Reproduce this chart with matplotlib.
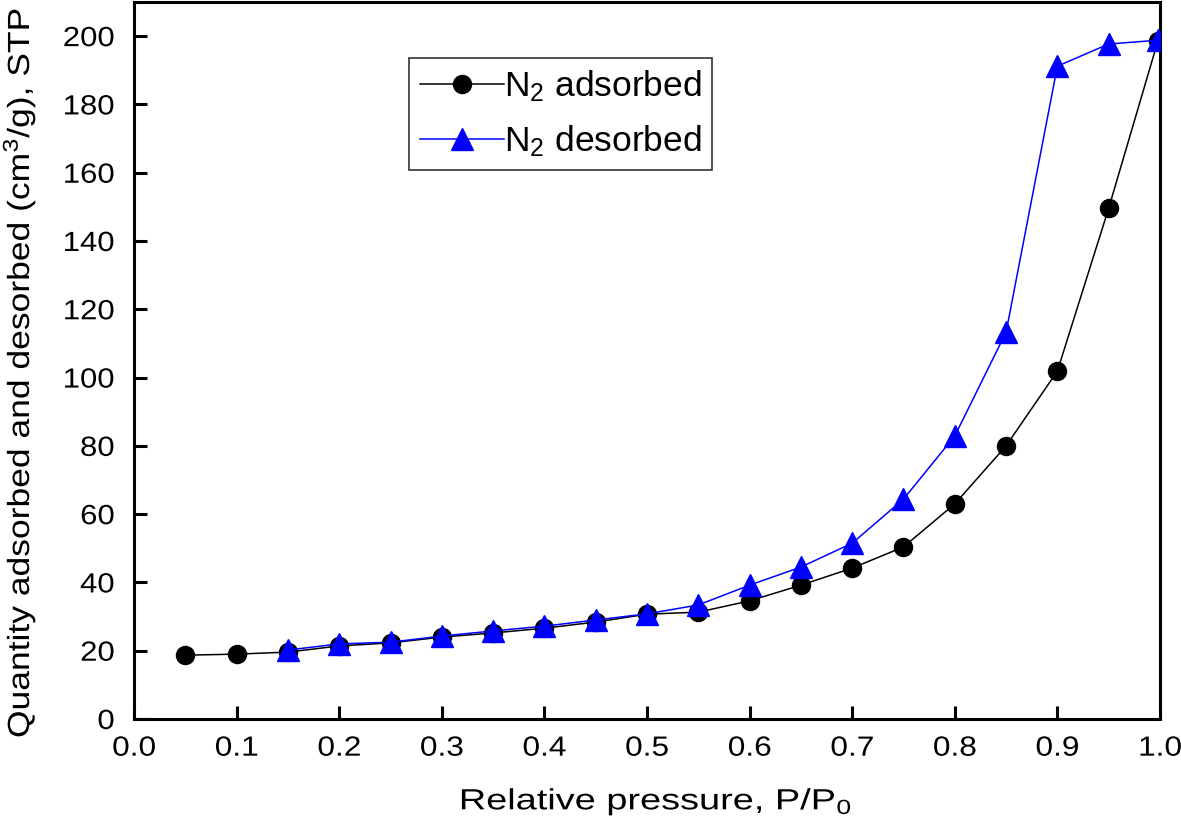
import matplotlib
matplotlib.use("Agg")
import matplotlib.pyplot as plt
from matplotlib.patheffects import AbstractPathEffect
from matplotlib.transforms import Affine2D

plt.rcParams['font.family'] = ['Liberation Sans', 'DejaVu Sans']
plt.rcParams['mathtext.fontset'] = 'custom'
plt.rcParams['mathtext.rm'] = 'Liberation Sans'
plt.rcParams['mathtext.it'] = 'Liberation Sans'

x_ads = [0.05, 0.10, 0.15, 0.20, 0.25, 0.30, 0.35, 0.40, 0.45, 0.50,
         0.55, 0.60, 0.65, 0.70, 0.75, 0.80, 0.85, 0.90, 0.95, 0.998]
y_ads = [18.7, 19.0, 19.6, 21.4, 22.3, 24.0, 25.2, 26.6, 28.4, 30.7,
         31.3, 34.6, 39.2, 44.2, 50.4, 63.0, 80.0, 101.9, 149.6, 198.6]

x_des = [0.15, 0.20, 0.25, 0.30, 0.35, 0.40, 0.45, 0.50, 0.55, 0.60,
         0.65, 0.70, 0.75, 0.80, 0.85, 0.90, 0.95, 0.998]
y_des = [20.2, 22.0, 22.5, 24.3, 25.8, 27.2, 29.0, 30.8, 33.4, 39.2,
         44.5, 51.5, 64.4, 82.9, 113.3, 191.2, 197.7, 198.8]

x_ticks = [0.0, 0.1, 0.2, 0.3, 0.4, 0.5, 0.6, 0.7, 0.8, 0.9, 1.0]
y_ticks = [0, 20, 40, 60, 80, 100, 120, 140, 160, 180, 200]


class Stretch(AbstractPathEffect):
    """Widen glyphs along the text direction, keeping an anchor fixed."""
    def __init__(self, sx, anchor='center'):
        super().__init__((0, 0))
        self._sx = sx
        self._anchor = anchor

    def draw_path(self, renderer, gc, tpath, affine, rgbFace=None):
        v = tpath.vertices
        if len(v) == 0:
            return
        x1 = float(v[:, 0].max())
        pivot = {'left': 0.0, 'right': x1, 'center': x1 / 2.0}[self._anchor]
        t = Affine2D().translate(-pivot, 0).scale(self._sx, 1).translate(pivot, 0) + affine
        renderer.draw_path(gc, tpath, t, rgbFace)


fig = plt.figure(figsize=(11.81, 8.32), dpi=100)
ax = fig.add_axes([0.1135, 0.1358, 0.8687, 0.8618])

ax.plot(x_ads, y_ads, color='black', lw=1.1, marker='o', ms=13,
        markerfacecolor='black', markeredgecolor='black', label=r'N$_2$ adsorbed', zorder=3)
ax.plot(x_des, y_des, color='blue', lw=1.1, marker='^', ms=15.5,
        markerfacecolor='blue', markeredgecolor='blue', label=r'N$_2$ desorbed', zorder=4)

ax.set_xlim(0.0, 1.0)
ax.set_ylim(0, 210)
ax.set_xticks(x_ticks)
ax.set_xticklabels([f'{v:.1f}' for v in x_ticks])
ax.set_yticks(y_ticks)
ax.tick_params(axis='x', direction='in', length=9.5, width=2.2, labelsize=20, pad=12,
               top=False)
ax.tick_params(axis='y', direction='in', length=9.5, width=2.2, labelsize=20, pad=14,
               right=False)
for s in ax.spines.values():
    s.set_linewidth(2.2)

for lab in ax.get_xticklabels():
    lab.set_path_effects([Stretch(1.14, 'center')])
for lab in ax.get_yticklabels():
    lab.set_path_effects([Stretch(1.12, 'right')])

xl = ax.set_xlabel(r'Relative pressure, P/P$_0$', fontsize=21)
xl.set_path_effects([Stretch(1.3, 'center')])
ax.xaxis.set_label_coords(0.508, -0.0927)

yl = ax.set_ylabel(r'Quantity adsorbed and desorbed (cm$^3$/g), STP', fontsize=22)
yl.set_path_effects([Stretch(1.16, 'center')])
ax.yaxis.set_label_coords(-0.0936, 0.482)

leg = ax.legend(loc='upper left', bbox_to_anchor=(0.268, 0.922), fontsize=25.5,
                frameon=True, fancybox=False, edgecolor='black', handlelength=2.37,
                handletextpad=0.0, borderpad=0.3, labelspacing=0.55, borderaxespad=0)
leg.get_frame().set_linewidth(1.2)

fig.savefig('out.png', dpi=100)
